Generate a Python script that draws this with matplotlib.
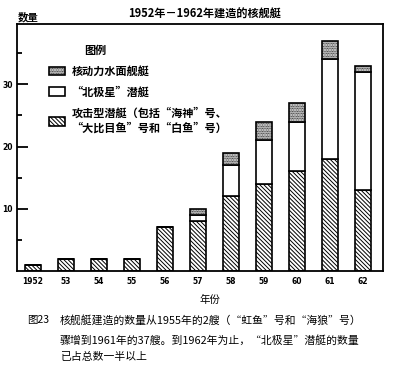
"""1952-1962 nuclear ship construction, stacked bar chart"""

import numpy as np
import matplotlib
matplotlib.use("Agg")
import matplotlib.pyplot as plt

plt.rcParams["font.family"] = ["Noto Sans CJK SC", "DejaVu Sans"]
plt.rcParams["hatch.linewidth"] = 0.7
plt.rcParams["axes.linewidth"] = 1.3

years = ["1952", "53", "54", "55", "56", "57", "58", "59", "60", "61", "62"]
attack = [1, 2, 2, 2, 7, 8, 12, 14, 16, 18, 13]
polaris = [0, 0, 0, 0, 0, 1, 5, 7, 8, 16, 19]
surface = [0, 0, 0, 0, 0, 1, 2, 3, 3, 3, 1]

lab_attack = "攻击型潜艇（包括“海神”号、\n“大比目鱼”号和“白鱼”号）"
lab_polaris = "“北极星”潜艇"
lab_surface = "核动力水面舰艇"

W, H = 393, 365
fig = plt.figure(figsize=(W / 100, H / 100), dpi=100)
ax = fig.add_axes([17 / W, 94 / H, 366 / W, 247 / H])

x = np.arange(len(years))
bw = 0.48
bar_kw = dict(width=bw, edgecolor="black", linewidth=1.2, facecolor="white")
b1 = ax.bar(x, attack, hatch="\\" * 8, label=lab_attack, **bar_kw)
b2 = ax.bar(x, polaris, bottom=attack, label=lab_polaris, **bar_kw)
bottom2 = np.array(attack) + np.array(polaris)
b3 = ax.bar(x, surface, bottom=bottom2, hatch="." * 10, label=lab_surface, **bar_kw)

ax.set_xlim(-0.48, 10.6)
ax.set_ylim(0, 39.7)
ax.set_xticks(x)
ax.set_xticklabels(years, fontsize=5.5, fontweight="bold", family="DejaVu Sans")
ax.tick_params(axis="x", length=0, pad=4)
ax.set_yticks([10, 20, 30])
ax.set_yticks([5, 15, 25, 35], minor=True)
ax.set_yticklabels(["10", "20", "30"], fontsize=5.5, fontweight="bold", family="DejaVu Sans")
ax.tick_params(axis="y", which="major", direction="in", length=8, width=1.3, pad=3)
ax.tick_params(axis="y", which="minor", direction="in", length=3.5, width=1.3)

ax.legend(handles=[b3, b2, b1], loc="upper left", bbox_to_anchor=(0.087, 0.835),
          frameon=False, prop={"size": 8, "weight": "bold"}, handlelength=1.45,
          handleheight=0.8, handletextpad=0.6, labelspacing=0.7, borderpad=0,
          borderaxespad=0)

fig.text(95 / W, 1 - 50 / H, "图例", ha="center", va="center", fontsize=8, fontweight="bold")
fig.text(205 / W, 1 - 14 / H, "1952年－1962年建造的核舰艇", ha="center", va="center",
         fontsize=8, fontweight="bold")
fig.text(18 / W, 1 - 17 / H, "数量", ha="left", va="center", fontsize=7.5, fontweight="bold")
fig.text(210 / W, 1 - 300 / H, "年份", ha="center", va="center", fontsize=7.5)

fig.text(27 / W, 1 - 320 / H, "图23", ha="left", va="center", fontsize=7.5)
caption = ["核舰艇建造的数量从1955年的2艘（“虹鱼”号和“海狼”号）",
           "骤增到1961年的37艘。到1962年为止，“北极星”潜艇的数量",
           "已占总数一半以上"]
for line, ypx in zip(caption, [320, 340, 357]):
    fig.text(60 / W, 1 - ypx / H, line, ha="left", va="center", fontsize=7.8)

fig.savefig("out.png", dpi=100)
